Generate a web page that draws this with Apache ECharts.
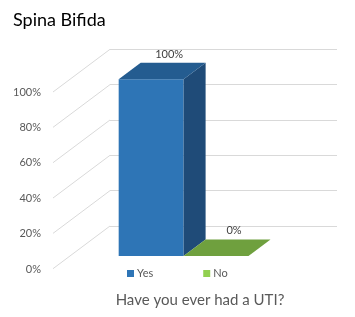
<!DOCTYPE html>
<html>
<head>
<meta charset="utf-8">
<script src="https://cdn.jsdelivr.net/npm/echarts@6/dist/echarts.min.js"></script>
<style>
    html, body { margin: 0; padding: 0; background: #fff; }
    #chart { width: 355px; height: 317px; }
</style>
</head>
<body>
<div id="chart"></div>
<script>
    // data
    var categories = [''];
    var seriesNames = ['Yes', 'No'];
    var seriesValues = [100, 0];
    var yTicks = [0, 20, 40, 60, 80, 100];

    // look of the fake 3d box
    var depth = [-57, 42.7];        // back wall -> front edge
    var barBack = 0.314, barFront = 0.7;
    var barFrac = 0.286;            // bar width as part of the band
    var faceColors = [
        { front: '#2E75B6', top: '#245C90', side: '#1F4B78', legend: '#2E75B6' },
        { front: '#70AD47', top: '#6FA03E', side: '#5A8A33', legend: '#92D050' }
    ];

    var myChart = echarts.init(document.getElementById('chart'));

    // diagonal grid lines on the left side wall
    function renderGridDiag(params, api) {
        var cs = params.coordSys;
        var p = api.coord([0, api.value(0)]);
        return {
            type: 'line',
            shape: { x1: cs.x, y1: p[1], x2: cs.x + depth[0], y2: p[1] + depth[1] },
            style: { stroke: '#D9D9D9', lineWidth: 1 },
            silent: true
        };
    }

    function renderBar(params, api) {
        var idx = api.value(2);
        var base = api.coord([0, 0]);
        var top = api.coord([0, api.value(1)]);
        var w = api.size([1, 0])[0] * barFrac;
        var x0 = base[0] + (idx - 1) * w, x1 = x0 + w;
        var fx = depth[0] * barFront, fy = depth[1] * barFront;
        var bx = depth[0] * barBack, by = depth[1] * barBack;
        var c = faceColors[idx];
        var children = [];
        if (base[1] - top[1] > 0.5) {
            children.push({
                type: 'rect',
                shape: { x: x0 + fx, y: top[1] + fy, width: w, height: base[1] - top[1] },
                style: { fill: c.front }
            });
            children.push({
                type: 'polygon',
                shape: { points: [[x1 + fx, top[1] + fy], [x1 + bx, top[1] + by], [x1 + bx, base[1] + by], [x1 + fx, base[1] + fy]] },
                style: { fill: c.side }
            });
        }
        children.push({
            type: 'polygon',
            shape: { points: [[x0 + fx, top[1] + fy], [x1 + fx, top[1] + fy], [x1 + bx, top[1] + by], [x0 + bx, top[1] + by]] },
            style: { fill: c.top }
        });
        children.push({
            type: 'text',
            style: {
                text: api.value(1) + '%',
                x: (x0 + x1) / 2 + bx - 4,
                y: top[1] + by - 3,
                align: 'center',
                verticalAlign: 'bottom',
                fill: '#404040',
                fontSize: 11,
                fontFamily: 'Lato'
            }
        });
        return { type: 'group', children: children };
    }

    var series = [{
        type: 'custom',
        xAxisIndex: 0,
        yAxisIndex: 0,
        renderItem: renderGridDiag,
        data: yTicks.map(function(v) { return [v]; }),
        encode: { y: 0 },
        silent: true,
        z: 1
    }];
    seriesNames.forEach(function(name, i) {
        series.push({
            name: name,
            type: 'custom',
            xAxisIndex: 0,
            yAxisIndex: 0,
            renderItem: renderBar,
            itemStyle: { color: faceColors[i].legend },
            data: [[0, seriesValues[i], i]],
            encode: { x: 0, y: 1 },
            z: 2 + i
        });
    });

    var option = {
        animation: false,
        textStyle: { fontFamily: 'Lato' },
        title: [{
            text: 'Spina Bifida',
            left: 8,
            top: 6,
            textStyle: { fontSize: 18, fontWeight: 'normal', color: '#000', fontFamily: 'Lato' }
        }, {
            text: 'Have you ever had a UTI?',
            left: 195,
            textAlign: 'center',
            top: 288,
            textStyle: { fontSize: 15, fontWeight: 'normal', color: '#595959', fontFamily: 'Lato' }
        }],
        legend: {
            data: seriesNames,
            left: 122,
            top: 263,
            icon: 'rect',
            itemWidth: 7,
            itemHeight: 7,
            itemGap: 50,
            textStyle: { fontSize: 11, color: '#595959', padding: [0, 0, 0, -2] }
        },
        // grid 0 = back wall, grid 1 = front edge (only for the labels)
        grid: [
            { left: 110, top: 49.3, right: 18, bottom: 91 },
            { left: 53, top: 92, right: 75, bottom: 48 }
        ],
        xAxis: [{
            gridIndex: 0,
            type: 'category',
            data: categories,
            show: false
        }, {
            gridIndex: 1,
            type: 'category',
            data: categories,
            show: false
        }],
        yAxis: [{
            gridIndex: 0,
            type: 'value',
            min: 0,
            max: 100,
            interval: 20,
            axisLabel: { show: false },
            axisLine: { show: false },
            axisTick: { show: false },
            splitLine: { lineStyle: { color: '#D9D9D9', width: 1 } }
        }, {
            gridIndex: 1,
            type: 'value',
            min: 0,
            max: 100,
            interval: 20,
            axisLabel: { formatter: '{value}%', color: '#595959', fontSize: 11, margin: 12 },
            axisLine: { show: false },
            axisTick: { show: false },
            splitLine: { show: false }
        }],
        series: series
    };
    myChart.setOption(option);
</script>
</body>
</html>
